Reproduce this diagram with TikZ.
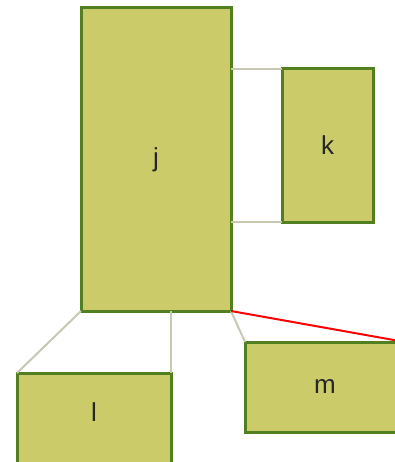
\documentclass[tikz,border=0pt]{standalone}
\usepackage{fontspec}
\setmainfont{Liberation Sans}
\definecolor{boxfill}{RGB}{203,203,106}
\definecolor{boxline}{RGB}{82,128,32}
\definecolor{linkgrey}{RGB}{200,200,178}
\begin{document}
\begin{tikzpicture}[x=1pt,y=-1pt]
            \useasboundingbox (0,0) rectangle (395,462);
            \clip (0,0) rectangle (395,462);
            \begin{scope}[every node/.style={rectangle,draw=boxline,fill=boxfill,line width=3pt,outer sep=0pt,inner sep=0pt,text=black!85,font=\fontsize{26}{30}\selectfont}]
            \node[minimum width=150pt,minimum height=303pt] (j) at (156,159.5) {j};
            \node[minimum width=91pt,minimum height=153pt] (k) at (327.5,145.5) {k};
            \node[minimum width=154pt,minimum height=97pt,text depth=18pt] (l) at (94,421.5) {l};
            \node[minimum width=160pt,minimum height=90pt] (m) at (325,387) {m};
            \end{scope}
            \begin{scope}[every edge/.style={draw=linkgrey,line width=2pt}]
            \draw  (j.east |- k.north west) edge (k.north west);
            \draw  (j.east |- k.south west) edge (k.south west);
            \draw  (j.south west) edge (l.north west);
            \draw  (j.south -| l.north east) edge (l.north east);
            \draw  (j.south east) edge (m.north west);
            \draw  (j.south east) edge[draw=red] (m.north east);
            \end{scope}
            \end{tikzpicture}
\end{document}
